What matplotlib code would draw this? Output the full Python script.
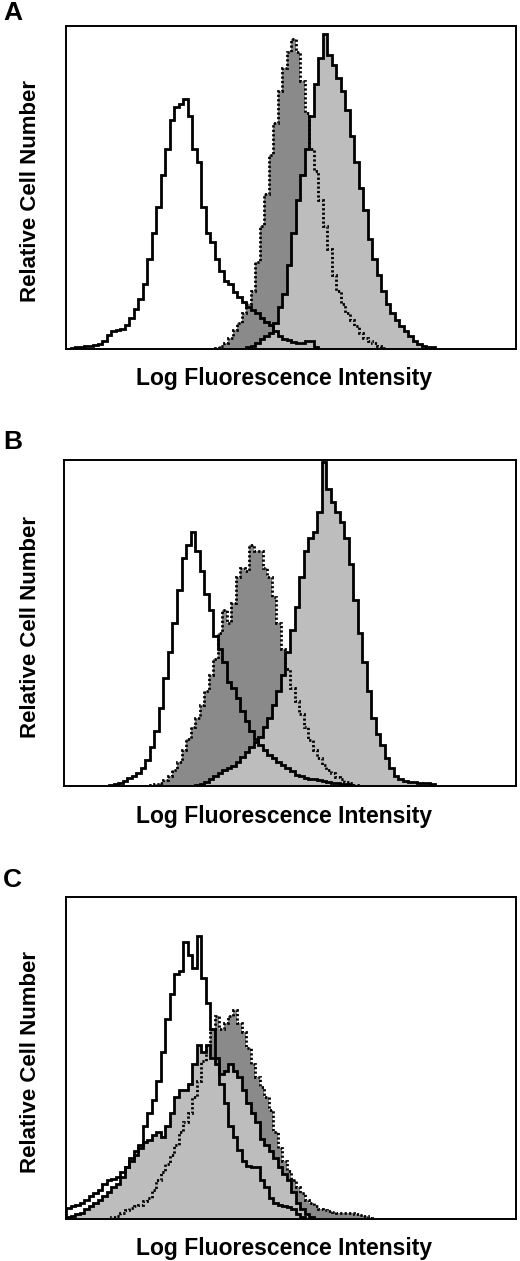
import numpy as np
import matplotlib
matplotlib.use("Agg")
import matplotlib.pyplot as plt

plt.rcParams['font.family'] = ['Liberation Sans', 'DejaVu Sans']

# Dados (canal 0-100, altura em % da caixa)
# Painel A
a_open_start = 0
a_open = [0, 0.4, 0.6, 0.5, 0.8, 1.0, 1.2, 1.5, 2.5, 4.3, 5.5, 6.0, 6.2, 7.5, 9.5,
          12.5, 15.5, 20, 28, 36, 44, 54, 62, 71, 75, 76, 77.5, 72, 62, 58, 44, 36,
          33, 28, 24, 21, 20, 17.5, 16, 14.5, 13, 12, 11, 9.5, 8.5, 7.5, 5.5, 4, 3.2,
          2.8, 2.2, 2, 2, 2.5, 2.5, 0.5]
a_dark_start = 33
a_dark = [0.3, 0.8, 2, 3.5, 6, 8, 11, 14, 18, 27, 38, 48, 60, 70, 80, 87, 92, 96,
          92, 83, 73, 62, 55, 46, 38, 31, 23, 18, 14, 11, 9, 7, 5, 3.5, 2.5, 2, 1, 0.3]
a_light_start = 40
a_light = [0.5, 1, 2, 3, 4, 5, 8, 13, 17, 26, 36, 46, 54, 62, 72, 82, 90, 97.5, 91,
           88, 84, 80, 74, 66, 58, 50, 43, 34, 28, 23, 18, 14, 11, 9, 7, 5.5, 4, 2.5,
           1.5, 1, 0.7, 0.5]

# Painel B
b_open_start = 10
b_open = [0.3, 0.5, 1, 1.5, 2.5, 3, 4, 5.5, 8, 12, 17, 24, 33, 41, 50, 60, 70, 74,
          78, 72, 66, 59, 54, 46, 42, 38, 32, 30, 27, 23, 20, 17, 14.5, 12.5, 11, 9.5,
          8.5, 7.5, 6.5, 5.4, 4.5, 3.5, 3, 2.6, 2.3, 2, 1.8, 1.5, 1.2, 1, 0.8, 0.6,
          0.5, 0.3]
b_dark_start = 19
b_dark = [0.3, 0.6, 1, 1.8, 3, 5, 7.5, 11, 14.5, 18, 21, 25, 29, 34, 39, 47, 54, 50,
          56, 64, 67, 66, 74, 72, 72, 67, 64, 58, 50, 42, 36, 30, 26, 22, 18, 14, 11,
          8.5, 6.5, 5, 4, 2.8, 2, 1.3, 0.8, 0.3]
b_light_start = 29
b_light = [0.3, 0.6, 1.2, 2, 3, 4, 5, 5.5, 6, 7.5, 9, 10.5, 12, 13.5, 15, 18, 21, 25,
           29, 34, 41, 48, 55, 64, 72, 76, 78, 84, 99.5, 91, 87, 84, 81, 76, 68, 57,
           47, 38, 29, 21, 16, 12.5, 8.5, 5.5, 3, 2, 1.5, 1.3, 1.2, 1, 0.9, 0.8, 0.6]

# Painel C
c_open_start = 0
c_open = [3.5, 4, 4.5, 5, 6, 7, 8, 9, 11, 12, 12.5, 13, 14.5, 16, 18, 20, 22, 29, 33,
          37, 43, 52, 62, 70, 76, 77, 86, 82, 78, 88, 75, 67, 59, 50, 42, 36, 29, 25.5,
          21.5, 18, 16.5, 16, 16, 12, 10, 6.5, 5, 4.5, 4, 3.8, 3, 1.5, 0.5]
c_dark_start = 10
c_dark = [0.5, 1, 2, 2.8, 3.5, 4, 4.5, 5.5, 6.5, 9, 12, 14.5, 17, 20, 23, 27, 30, 33,
          38, 43, 49, 54, 59, 63, 59, 61, 63, 65, 61, 58, 53, 48, 44, 41, 38, 34, 27,
          22, 18, 15, 12, 10, 8, 6, 5, 4, 3.2, 2.8, 2.5, 2.3, 2, 1.8, 1.8, 1.8, 1.6,
          1.2, 0.9, 0.4]
c_light_start = 0
c_light = [0.5, 1, 1.5, 2, 3, 4, 5, 6, 7, 8.5, 10, 11, 13, 16, 19, 21, 23, 24, 24.5,
           26, 27, 25.5, 29, 33, 38, 40, 40, 42, 48, 54, 52, 54, 50, 48, 45, 46, 48, 46,
           44, 40, 36, 33, 30, 25, 23, 21, 19, 16, 14, 12, 8.5, 5, 3, 1.5, 0.7]

panels = [
    ('A', (a_open_start, a_open), (a_dark_start, a_dark), (a_light_start, a_light)),
    ('B', (b_open_start, b_open), (b_dark_start, b_dark), (b_light_start, b_light)),
    ('C', (c_open_start, c_open), (c_dark_start, c_dark), (c_light_start, c_light)),
]

# posicoes em pixels: (esquerda, topo, direita, base)
W, H = 520, 1261
boxes = [(66, 26, 516, 349), (64, 460, 516, 786), (66, 897, 516, 1219)]
letter_y = [13, 442, 880]

DARK = '#8a8a8a'
LIGHT = '#bdbdbd'

fig = plt.figure(figsize=(W / 100, H / 100), dpi=100)


def edges(start, vals):
    return np.arange(start, start + len(vals) + 1)


for (letter, op, dk, lt), (l, t, r, b), ly in zip(panels, boxes, letter_y):
    ax = fig.add_axes([l / W, 1 - b / H, (r - l) / W, (b - t) / H])

    ax.stairs(dk[1], edges(*dk), fill=True, color=DARK, lw=0)
    ax.stairs(lt[1], edges(*lt), fill=True, color=LIGHT, lw=0)
    ax.stairs(op[1], edges(*op), baseline=0, color='black', lw=2.0)
    ax.stairs(lt[1], edges(*lt), baseline=0, color='black', lw=2.0)
    ax.stairs(dk[1], edges(*dk), baseline=0, color='black', lw=2.0,
              linestyle=(0, (0.8, 0.8)))

    ax.set_xlim(0, 100)
    ax.set_ylim(0, 100)
    ax.set_xticks([])
    ax.set_yticks([])
    for s in ax.spines.values():
        s.set_linewidth(1.4)

    fig.text(3 / W, 1 - ly / H, letter, fontsize=19, fontweight='bold',
             ha='left', va='center')
    fig.text(284 / W, 1 - (b + 30) / H, 'Log Fluorescence Intensity',
             fontsize=16.5, fontweight='bold', ha='center', va='center')
    fig.text(31 / W, 1 - ((t + b) / 2 + 4) / H, 'Relative Cell Number',
             fontsize=16, fontweight='bold', rotation=90, ha='center', va='center')

fig.savefig('out.png', dpi=100)
